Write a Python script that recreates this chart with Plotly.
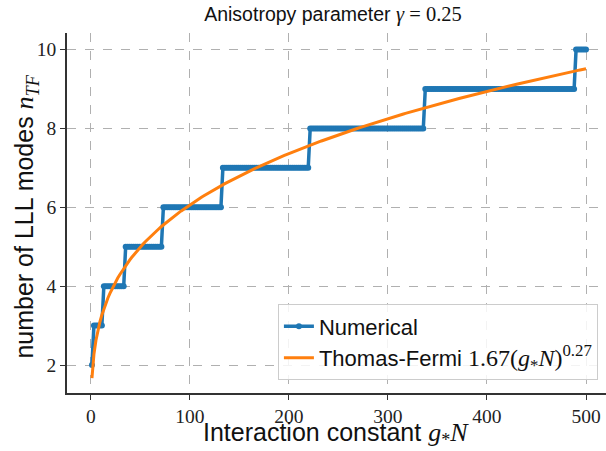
import numpy as np
import plotly.graph_objects as go

# ---- data ----
g_min, g_max, n_samples = 1.0, 500.0, 250          # sampled interaction constants g*N
step_start = [1, 3, 13, 35, 72, 133, 220, 336, 488]  # first g*N where each mode count appears
step_modes = [2, 3, 4, 5, 6, 7, 8, 9, 10]            # number of LLL modes n_TF
tf_coef, tf_exp = 1.67, 0.28                          # Thomas-Fermi fit (curve as drawn)
x_ticks = [0, 100, 200, 300, 400, 500]
y_ticks = [2, 4, 6, 8, 10]

gN = np.linspace(g_min, g_max, n_samples)
idx = np.searchsorted(step_start, gN, side="right") - 1
n_num = np.array(step_modes)[idx]
n_tf = tf_coef * gN ** tf_exp

BLUE = "#1f77b4"
ORANGE = "#ff7f0e"
SERIF = "Liberation Serif"
SANS = "Liberation Sans"


def math(s, size):
    return f"<span style=\"font-family:{SERIF};font-size:{size}px\">{s}</span>"


fig = go.Figure()
fig.add_trace(go.Scatter(
    x=gN, y=n_num, mode="lines+markers", name="Numerical",
    line=dict(color=BLUE, width=3.5),
    marker=dict(color=BLUE, size=6),
))
fig.add_trace(go.Scatter(
    x=gN, y=n_tf, mode="lines",
    name="Thomas-Fermi " + math("1.67(<i>g</i><sub>*</sub><i>N</i>)<sup>0.27</sup>", 24),
    line=dict(color=ORANGE, width=3),
))

axis_common = dict(
    showgrid=True, gridcolor="#b0b0b0", griddash="dash", gridwidth=1,
    showline=True, linecolor="#333333", linewidth=1.5,
    ticks="outside", ticklen=5, tickwidth=1.2, tickcolor="#333333",
    zeroline=False, mirror=False, automargin=False,
    tickfont=dict(family=SERIF, size=19.5, color="#222222"),
)

fig.update_layout(
    width=606, height=451,
    margin=dict(l=67, r=0, t=33, b=58),
    plot_bgcolor="white", paper_bgcolor="white",
    font=dict(family=SANS, color="#111111"),
    title=dict(
        text="Anisotropy parameter " + math("<i>γ</i> = 0.25", 20.5),
        x=333 / 606, xanchor="center", y=1 - 14 / 451, yanchor="middle",
        font=dict(family=SANS, size=19.5, color="#111111"),
    ),
    xaxis=dict(axis_common, range=[-24.2, 520.2], tickvals=x_ticks),
    yaxis=dict(axis_common, range=[1.29, 10.42], tickvals=y_ticks),
    legend=dict(
        x=0.985, xanchor="right", y=0.035, yanchor="bottom",
        bgcolor="rgba(255,255,255,0.85)", bordercolor="#cccccc", borderwidth=1,
        font=dict(family=SANS, size=22, color="#111111"),
    ),
    showlegend=True,
    annotations=[
        dict(
            text="Interaction constant " + math("<i>g</i><sub>*</sub><i>N</i>", 26),
            xref="paper", yref="paper", x=(336 - 67) / 539, y=(393 - 434) / 360,
            xanchor="center", yanchor="middle", showarrow=False,
            font=dict(family=SANS, size=25, color="#111111"),
        ),
        dict(
            text="number of LLL modes " + math("<i>n</i><sub><i>TF</i></sub>", 26),
            xref="paper", yref="paper", x=(26 - 67) / 539, y=0.49,
            xanchor="center", yanchor="middle", showarrow=False, textangle=-90,
            font=dict(family=SANS, size=25, color="#111111"),
        ),
    ],
)

fig.write_html(
    "out.html",
    config={"displayModeBar": False},
    post_script="document.body.style.margin='0';document.body.style.padding='0';",
)
